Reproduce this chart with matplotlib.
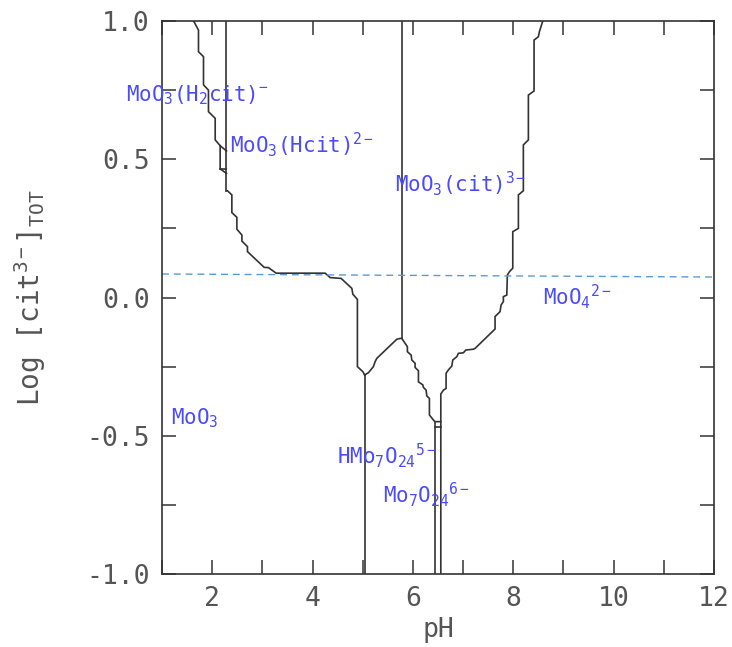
import matplotlib
matplotlib.use("Agg")
import matplotlib.pyplot as plt
from matplotlib.ticker import MultipleLocator

plt.rcParams['font.family'] = ['DejaVu Sans Mono']
plt.rcParams['mathtext.fontset'] = 'custom'
plt.rcParams['mathtext.rm'] = 'DejaVu Sans Mono'
plt.rcParams['mathtext.it'] = 'DejaVu Sans Mono'
plt.rcParams['mathtext.bf'] = 'DejaVu Sans Mono'

# ---- boundary data (pH, log[cit]TOT) ----
upper_left_ph = [1.63, 1.727, 1.727, 1.827, 1.827, 1.926, 1.926, 2.060, 2.060, 2.159, 2.285]
upper_left_y = [1.0, 0.967, 0.889, 0.871, 0.769, 0.750, 0.672, 0.648, 0.570, 0.549, 0.530]

v_h2cit_ph = [2.285, 2.285]
v_h2cit_y = [1.0, 0.386]

box_ph = [2.159, 2.159, 2.285]
box_y = [0.549, 0.465, 0.449]
box_h_ph = [2.159, 2.285]
box_h_y = [0.465, 0.465]

lower_left_ph = [2.285, 2.305, 2.392, 2.392, 2.492, 2.492, 2.592, 2.592, 2.703, 2.703, 3.036, 3.122,
                 3.275, 4.251, 4.351, 4.570, 4.783, 4.803, 4.894, 4.894, 5.002, 5.038]
lower_left_y = [0.386, 0.386, 0.371, 0.307, 0.290, 0.247, 0.226, 0.204, 0.184, 0.166, 0.109, 0.108,
                0.088, 0.088, 0.072, 0.069, 0.033, 0.012, -0.007, -0.250, -0.268, -0.280]

v_hmo7_ph = [5.038, 5.038]
v_hmo7_y = [-0.280, -1.0]

rise_ph = [5.038, 5.114, 5.213, 5.247, 5.281, 5.679, 5.745, 5.779]
rise_y = [-0.280, -0.272, -0.250, -0.232, -0.220, -0.151, -0.148, -0.148]

v_cit_ph = [5.779, 5.779]
v_cit_y = [-0.148, 1.0]

fall_ph = [5.779, 5.890, 5.890, 5.964, 5.978, 6.044, 6.044, 6.110, 6.110, 6.197, 6.209, 6.263,
           6.277, 6.329, 6.329, 6.422, 6.442, 6.556]
fall_y = [-0.148, -0.178, -0.196, -0.208, -0.226, -0.238, -0.253, -0.265, -0.305, -0.316, -0.325, -0.335,
          -0.356, -0.365, -0.425, -0.446, -0.449, -0.449]

v_mo7a_ph = [6.442, 6.442]
v_mo7a_y = [-0.449, -1.0]
mo7_box_ph = [6.442, 6.556]
mo7_box_y = [-0.469, -0.469]

right_ph = [6.556, 6.556, 6.556, 6.608, 6.661, 6.661, 6.707, 6.775, 6.795, 6.875, 6.906, 7.006, 7.054,
            7.205, 7.239, 7.637, 7.637, 7.737, 7.757, 7.803, 7.803, 7.871, 7.882, 7.922, 7.990,
            7.990, 8.102, 8.102, 8.201, 8.201, 8.301, 8.301, 8.414, 8.414, 8.500, 8.520, 8.588]
right_y = [-1.0, -0.449, -0.349, -0.335, -0.329, -0.274, -0.262, -0.248, -0.226, -0.214, -0.202, -0.200, -0.190,
           -0.187, -0.184, -0.114, -0.069, -0.051, -0.027, -0.015, 0.003, 0.009, 0.081, 0.093, 0.106,
           0.238, 0.250, 0.371, 0.386, 0.552, 0.570, 0.732, 0.747, 0.931, 0.943, 0.961, 1.0]

dashed_ph = [1.0, 12.0]
dashed_y = [0.085, 0.074]

labels = [r'MoO$_3$(H$_2$cit)$^{-}$', r'MoO$_3$(Hcit)$^{2-}$', r'MoO$_3$(cit)$^{3-}$',
          r'MoO$_4$$^{2-}$', r'MoO$_3$', r'HMo$_7$O$_{24}$$^{5-}$',
          r'Mo$_7$O$_{24}$$^{6-}$']
label_ph = [0.287, 2.359, 5.645, 8.594, 1.183, 4.490, 5.406]
label_y = [0.711, 0.523, 0.382, -0.027, -0.458, -0.599, -0.743]

xticks = [2, 4, 6, 8, 10, 12]
yticks = [-1.0, -0.5, 0.0, 0.5, 1.0]

fig = plt.figure(figsize=(7.32, 6.47), dpi=100)
ax = fig.add_axes([162 / 732, 73 / 647, 552 / 732, 553 / 647])

lc = '#333333'
lw = 1.2
segments = [(upper_left_ph, upper_left_y), (v_h2cit_ph, v_h2cit_y), (box_ph, box_y), (box_h_ph, box_h_y),
            (lower_left_ph, lower_left_y), (v_hmo7_ph, v_hmo7_y), (rise_ph, rise_y), (v_cit_ph, v_cit_y),
            (fall_ph, fall_y), (v_mo7a_ph, v_mo7a_y), (mo7_box_ph, mo7_box_y), (right_ph, right_y)]
for xs, ys in segments:
    ax.plot(xs, ys, color=lc, lw=lw, solid_joinstyle='miter')

ax.plot(dashed_ph, dashed_y, color='#5b9bd5', lw=1.0, ls=(0, (5, 3.5)))

for t, x, y in zip(labels, label_ph, label_y):
    ax.text(x, y, t, color='#4a4aff', fontsize=15, ha='left', va='baseline')

ax.set_xlim(1, 12)
ax.set_ylim(-1, 1)
ax.set_xticks(xticks)
ax.set_yticks(yticks)
ax.set_xticklabels([str(v) for v in xticks])
ax.set_yticklabels(['%.1f' % v for v in yticks])
ax.xaxis.set_minor_locator(MultipleLocator(1))
ax.yaxis.set_minor_locator(MultipleLocator(0.25))
ax.tick_params(which='both', direction='in', length=10, width=1.1, color=lc,
               top=True, right=True, labelsize=19, labelcolor='#555555', pad=9)
for s in ax.spines.values():
    s.set_color(lc)
    s.set_linewidth(1.2)

ax.set_xlabel('pH', fontsize=19, color='#555555', labelpad=3)
ax.set_ylabel(r'Log [cit$^{3-}$]$_{\mathrm{TOT}}$', fontsize=20, color='#555555', labelpad=27)

fig.savefig('out.png', dpi=100)
